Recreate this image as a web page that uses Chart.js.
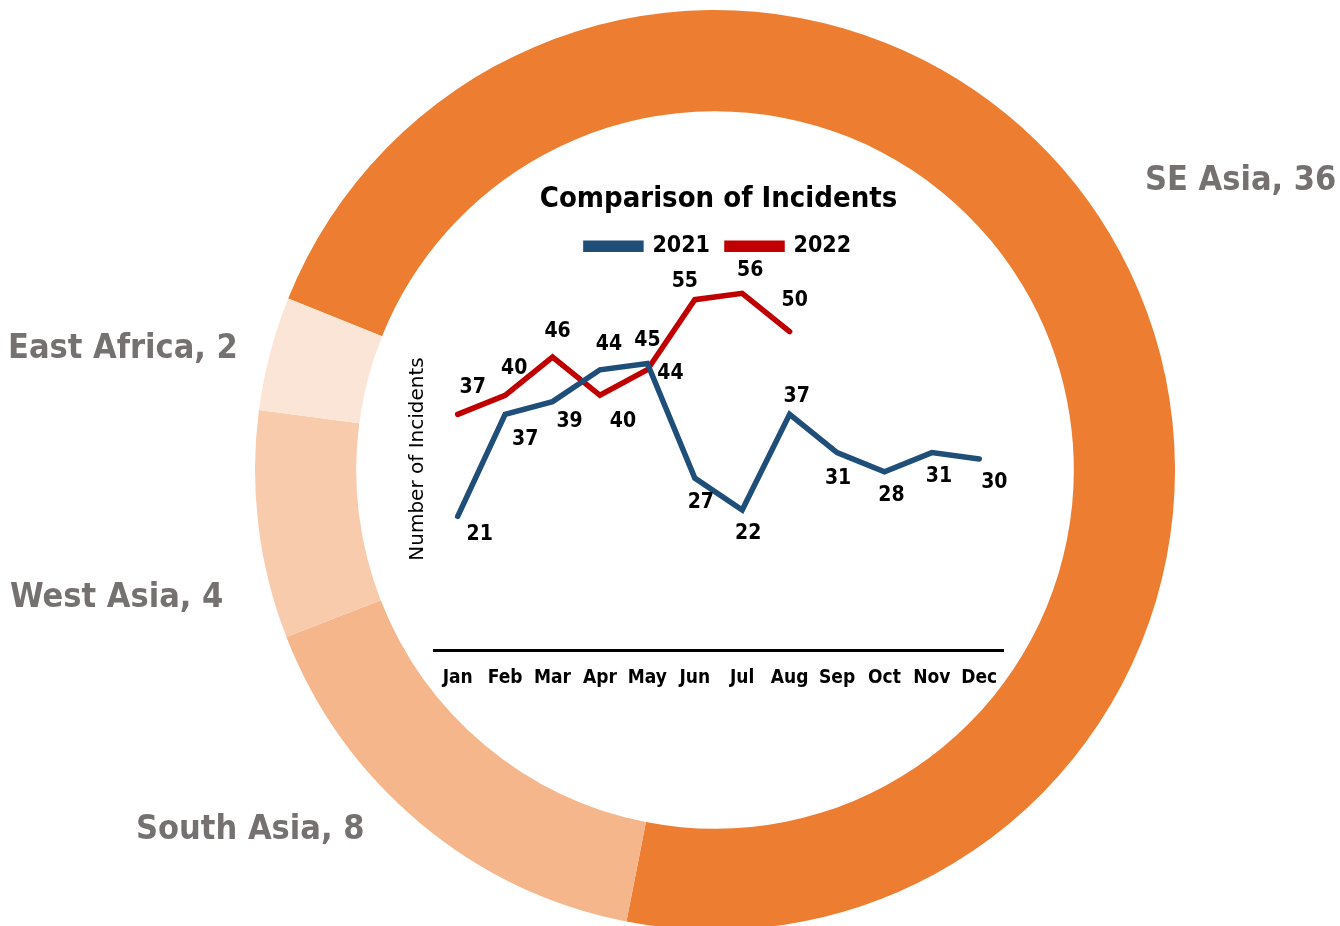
<!DOCTYPE html>
<html>
<head>
<meta charset="utf-8">
<script src="https://cdn.jsdelivr.net/npm/chart.js@4.4.0/dist/chart.umd.min.js"></script>
<style>
  html, body { margin: 0; padding: 0; background: #fff; overflow: hidden; }
  body { width: 1340px; height: 926px; position: relative; }
  #ringBox { position: absolute; left: 0; top: 0; width: 1340px; height: 940px; }
  #lineBox { position: absolute; left: 398px; top: 170px; width: 641px; height: 535px; }
</style>
</head>
<body>
<div id="ringBox"><canvas id="graficoRegiones"></canvas></div>
<div id="lineBox"><canvas id="graficoIncidentes"></canvas></div>
<script>
const regions = ['SE Asia', 'South Asia', 'West Asia', 'East Africa'];
const regionCounts = [36, 8, 4, 2];
const months = ['Jan', 'Feb', 'Mar', 'Apr', 'May', 'Jun', 'Jul', 'Aug', 'Sep', 'Oct', 'Nov', 'Dec'];
const incidents2021 = [21, 37, 39, 44, 45, 27, 22, 37, 31, 28, 31, 30];
const incidents2022 = [37, 40, 46, 40, 44, 55, 56, 50];

// where the region names sit (left x, middle y)
const regionLabelPos = [[1145, 181], [136, 830], [10, 598], [8, 349]];
// value label offsets from each point
const labelOffsets = [
    [[22, 18], [20, 25], [17, 20], [9, -25], [0, -23], [6, 24], [6, 24], [7, -18], [1, 26], [7, 24], [7, 24], [15, 24]],
    [[15, -27], [9, -27], [5, -25], [23, 26], [23, 4], [-10, -18], [8, -23], [5, -31]]
];

const FONT = '"DejaVu Sans Condensed", "DejaVu Sans", sans-serif';

const regionLabels = {
    id: 'regionLabels',
    afterDraw(chart) {
        const ctx = chart.ctx;
        ctx.save();
        ctx.font = 'bold 34px ' + FONT;
        ctx.fillStyle = '#767171';
        ctx.textAlign = 'left';
        ctx.textBaseline = 'middle';
        chart.data.labels.forEach((name, i) => {
            const [x, y] = regionLabelPos[i];
            ctx.fillText(name + ', ' + chart.data.datasets[0].data[i], x, y);
        });
        ctx.restore();
    }
};

const valueLabels = {
    id: 'valueLabels',
    afterDatasetsDraw(chart) {
        const ctx = chart.ctx;
        ctx.save();
        ctx.font = 'bold 21px ' + FONT;
        ctx.fillStyle = '#000';
        ctx.textAlign = 'center';
        ctx.textBaseline = 'middle';
        chart.data.datasets.forEach((ds, i) => {
            const meta = chart.getDatasetMeta(i);
            meta.data.forEach((pt, j) => {
                const [dx, dy] = labelOffsets[i][j];
                ctx.fillText(ds.data[j], pt.x + dx, pt.y + dy);
            });
        });
        ctx.restore();
    }
};

const ctxRing = document.getElementById('graficoRegiones').getContext('2d');

new Chart(ctxRing, {
    type: 'doughnut',
    data: {
        labels: regions,
        datasets: [{
            data: regionCounts,
            backgroundColor: ['#ED7D31', '#F4B68A', '#F8CBAD', '#FBE5D6'],
            borderWidth: 0
        }]
    },
    options: {
        responsive: true,
        maintainAspectRatio: false,
        animation: false,
        rotation: -68.1,
        cutout: '78%',
        layout: {
            padding: { left: 255, right: 165, top: 10, bottom: 10 }
        },
        plugins: {
            legend: { display: false },
            tooltip: { enabled: false }
        }
    },
    plugins: [regionLabels]
});

const ctxLine = document.getElementById('graficoIncidentes').getContext('2d');

new Chart(ctxLine, {
    type: 'line',
    data: {
        labels: months,
        datasets: [{
            label: '2021',
            data: incidents2021,
            borderColor: '#1F4E79',
            backgroundColor: '#1F4E79',
            borderWidth: 5.5,
            borderCapStyle: 'round',
            pointRadius: 0,
            tension: 0
        }, {
            label: '2022',
            data: incidents2022,
            borderColor: '#C00000',
            backgroundColor: '#C00000',
            borderWidth: 5.5,
            borderCapStyle: 'round',
            pointRadius: 0,
            tension: 0
        }]
    },
    options: {
        responsive: true,
        maintainAspectRatio: false,
        animation: false,
        layout: {
            padding: { left: 4, right: 4, top: 2, bottom: 0 }
        },
        plugins: {
            title: {
                display: true,
                text: 'Comparison of Incidents',
                color: '#000',
                font: { family: FONT, size: 29, weight: 'bold' },
                padding: { top: 10, bottom: 1 }
            },
            legend: {
                labels: {
                    color: '#000',
                    boxWidth: 55,
                    boxHeight: 6,
                    padding: 17,
                    font: { family: FONT, size: 23, weight: 'bold' }
                }
            },
            tooltip: { enabled: false }
        },
        scales: {
            x: {
                offset: true,
                grid: { display: false, drawTicks: false },
                border: { display: true, color: '#000', width: 3 },
                ticks: {
                    color: '#000',
                    padding: 16,
                    maxRotation: 0,
                    autoSkip: false,
                    font: { family: FONT, size: 19, weight: 'bold' }
                }
            },
            y: {
                min: 0,
                max: 60,
                grid: { display: false, drawTicks: false },
                border: { display: false },
                ticks: { display: false },
                title: {
                    display: true,
                    text: 'Number of Incidents',
                    color: '#000',
                    font: { family: '"DejaVu Sans", sans-serif', size: 20 }
                }
            },
            // empty twin on the right keeps the title centred over the plot
            yRight: {
                position: 'right',
                grid: { display: false, drawTicks: false },
                border: { display: false },
                ticks: { display: false },
                title: {
                    display: true,
                    text: '',
                    font: { size: 20 }
                }
            }
        }
    },
    plugins: [valueLabels]
});
</script>
</body>
</html>
